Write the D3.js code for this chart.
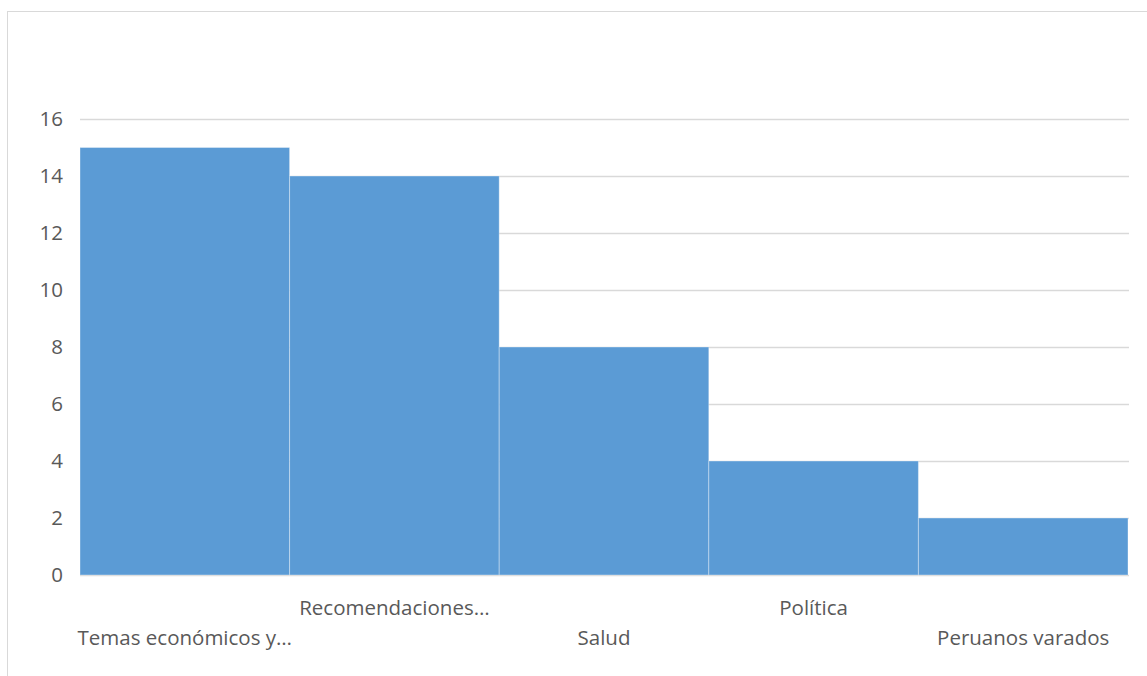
<!DOCTYPE html>
<html><head><meta charset="utf-8">
<script src="https://cdn.jsdelivr.net/npm/d3@7/dist/d3.min.js"></script>
<style>body{margin:0;background:#fff}svg{display:block}</style>
</head><body>
<svg id="c" width="1147" height="676"></svg>
<script>
const categories = ["Temas económicos y…", "Recomendaciones…", "Salud", "Política", "Peruanos varados"];
const values = [15, 14, 8, 4, 2];
const yTicks = [0, 2, 4, 6, 8, 10, 12, 14, 16];

const svg = d3.select("#c");
const m = {left: 80, right: 1128, top: 119, bottom: 575};
const font = "'Open Sans', sans-serif";

// chart border
svg.append("rect").attr("x", 7.5).attr("y", 11.5).attr("width", 1160).attr("height", 700)
  .attr("fill", "none").attr("stroke", "#d9d9d9").attr("stroke-width", 1);

const x = d3.scaleBand().domain(categories).range([m.left, m.right]).padding(0);
const y = d3.scaleLinear().domain([0, 16]).range([m.bottom, m.top]);

// gridlines
svg.append("g").selectAll("line").data(yTicks).join("line")
  .attr("x1", m.left).attr("x2", m.right + 1)
  .attr("y1", d => Math.round(y(d)) + 0.5).attr("y2", d => Math.round(y(d)) + 0.5)
  .attr("stroke", "#d9d9d9").attr("stroke-width", 1.5);

// bars
svg.append("g").selectAll("rect").data(values).join("rect")
  .attr("x", (d, i) => x(categories[i]))
  .attr("width", x.bandwidth())
  .attr("y", d => y(d))
  .attr("height", d => y(0) - y(d))
  .attr("fill", "#5b9bd5")
  .attr("stroke", "rgba(255,255,255,0.35)").attr("stroke-width", 1);

// y tick labels
svg.append("g").selectAll("text").data(yTicks).join("text")
  .attr("x", 63).attr("y", d => y(d)).attr("dy", "0.35em")
  .attr("text-anchor", "end").attr("font-family", font).attr("font-size", 20.5)
  .attr("fill", "#595959").text(d => d);

// x labels (staggered)
svg.append("g").selectAll("text").data(categories).join("text")
  .attr("x", d => x(d) + x.bandwidth() / 2)
  .attr("y", (d, i) => i % 2 === 0 ? 638 : 608).attr("dy", "0.35em")
  .attr("text-anchor", "middle").attr("font-family", font).attr("font-size", 20.5)
  .attr("fill", "#595959").text(d => d);
</script>
</body></html>
